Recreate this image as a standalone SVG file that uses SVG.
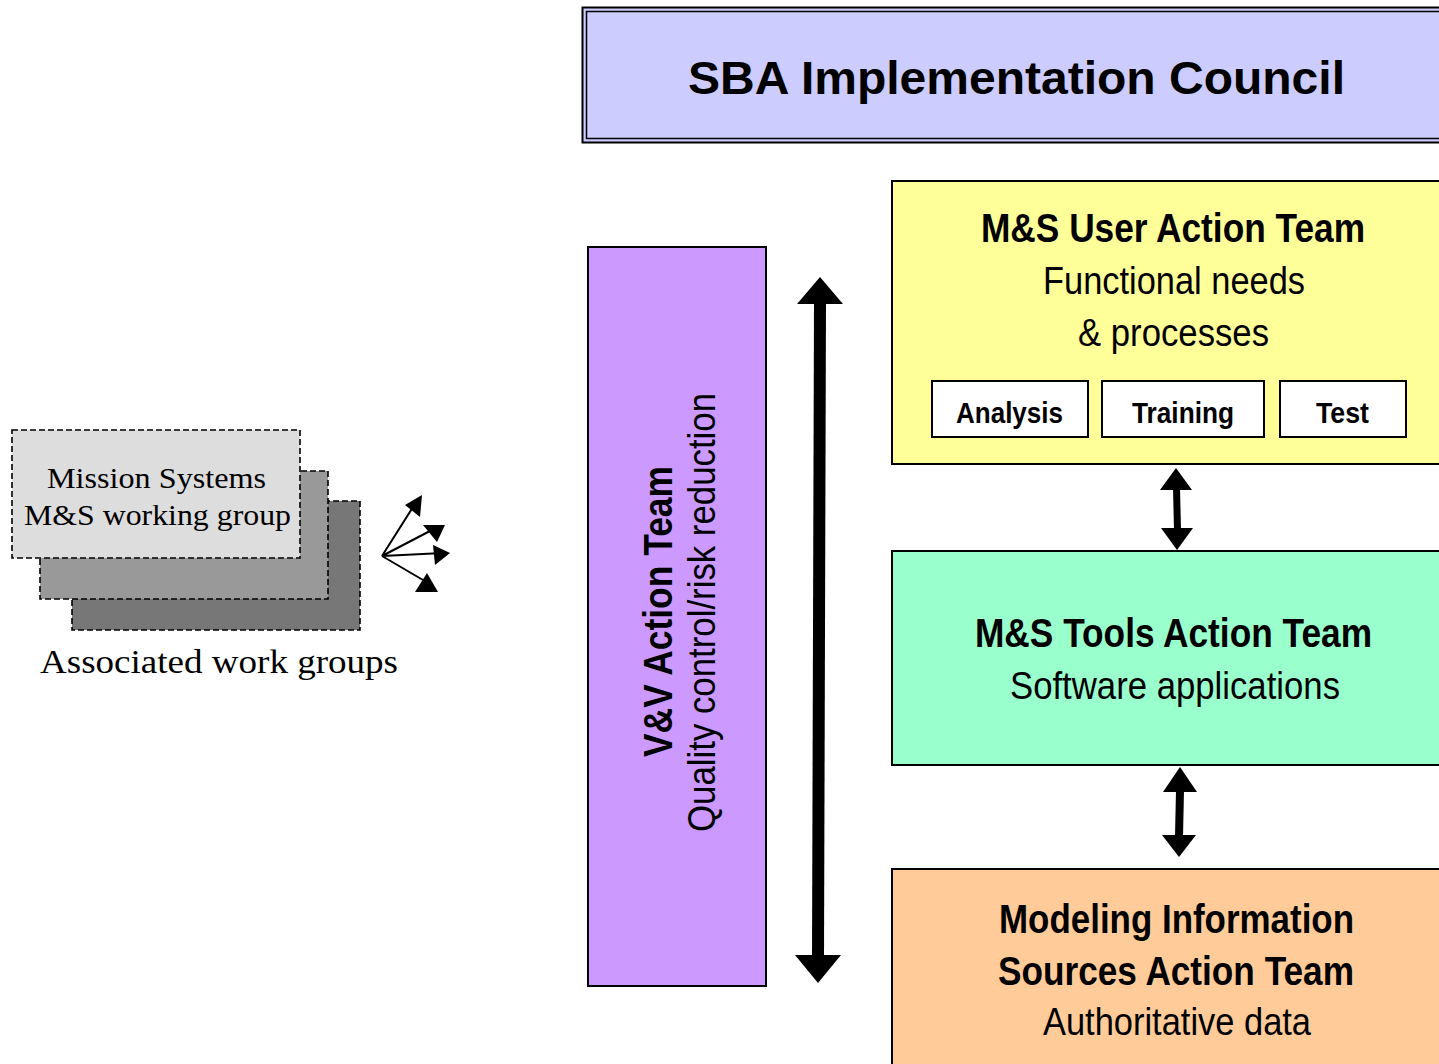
<svg xmlns="http://www.w3.org/2000/svg" width="1439" height="1064" viewBox="0 0 1439 1064">
  <style>
    .box { stroke: #000; stroke-width: 2; }
    .wg { stroke: #000; stroke-width: 1.6; stroke-dasharray: 6 3; }
    .nb { font-family: "Liberation Sans Narrow", "Liberation Sans", Arial, sans-serif; font-weight: bold; fill: #000; text-anchor: middle; }
    .nr { font-family: "Liberation Sans Narrow", "Liberation Sans", Arial, sans-serif; font-weight: normal; fill: #000; text-anchor: middle; }
    .sf { font-family: "Liberation Serif", "Times New Roman", serif; fill: #000; text-anchor: middle; }
    .head { fill: #000; }
    .fan { stroke: #000; stroke-width: 2; fill: none; }
  </style>
  <rect width="1439" height="1064" fill="#fff"/>

  <!-- council banner -->
  <g id="council">
    <rect class="box" x="582.5" y="7.5" width="870" height="135" fill="#ccccff"/>
    <rect x="586.5" y="11.5" width="866" height="127" fill="none" stroke="#000" stroke-width="1.5"/>
    <text class="nb" x="1016.5" y="94" font-size="46" textLength="657" lengthAdjust="spacingAndGlyphs">SBA Implementation Council</text>
  </g>

  <!-- verification & validation team, vertical -->
  <g id="vv-team">
    <rect class="box" x="588" y="247" width="178" height="739" fill="#cc99ff"/>
    <text class="nb" transform="translate(672,611.5) rotate(-90)" font-size="40" textLength="291" lengthAdjust="spacingAndGlyphs">V&amp;V Action Team</text>
    <text class="nr" transform="translate(715,612.5) rotate(-90)" font-size="38" textLength="439" lengthAdjust="spacingAndGlyphs">Quality control/risk reduction</text>
  </g>

  <!-- user team with its three domains -->
  <g id="user-team">
    <rect class="box" x="892" y="181" width="560" height="283" fill="#ffff99"/>
    <text class="nb" x="1173" y="242" font-size="40" textLength="384" lengthAdjust="spacingAndGlyphs">M&amp;S User Action Team</text>
    <text class="nr" x="1174" y="294" font-size="38" textLength="262" lengthAdjust="spacingAndGlyphs">Functional needs</text>
    <text class="nr" x="1173.5" y="346" font-size="38" textLength="191" lengthAdjust="spacingAndGlyphs">&amp; processes</text>
  </g>
  <g id="analysis">
    <rect class="box" x="932" y="381" width="156" height="56" fill="#fff"/>
    <text class="nb" x="1009.5" y="423" font-size="30" textLength="107" lengthAdjust="spacingAndGlyphs">Analysis</text>
  </g>
  <g id="training">
    <rect class="box" x="1102" y="381" width="162" height="56" fill="#fff"/>
    <text class="nb" x="1183" y="423" font-size="30" textLength="102" lengthAdjust="spacingAndGlyphs">Training</text>
  </g>
  <g id="test">
    <rect class="box" x="1280" y="381" width="126" height="56" fill="#fff"/>
    <text class="nb" x="1342.5" y="423" font-size="30" textLength="53" lengthAdjust="spacingAndGlyphs">Test</text>
  </g>

  <!-- tools team -->
  <g id="tools-team">
    <rect class="box" x="892" y="551" width="560" height="214" fill="#99ffcc"/>
    <text class="nb" x="1173.5" y="647" font-size="40" textLength="397" lengthAdjust="spacingAndGlyphs">M&amp;S Tools Action Team</text>
    <text class="nr" x="1175" y="699" font-size="38" textLength="330" lengthAdjust="spacingAndGlyphs">Software applications</text>
  </g>

  <!-- information sources team -->
  <g id="sources-team">
    <rect class="box" x="892" y="869" width="560" height="210" fill="#ffcc99"/>
    <text class="nb" x="1176.5" y="933" font-size="40" textLength="355" lengthAdjust="spacingAndGlyphs">Modeling Information</text>
    <text class="nb" x="1176" y="985" font-size="40" textLength="356" lengthAdjust="spacingAndGlyphs">Sources Action Team</text>
    <text class="nr" x="1177" y="1035" font-size="38" textLength="268" lengthAdjust="spacingAndGlyphs">Authoritative data</text>
  </g>

  <!-- stacked working-group cards -->
  <g id="work-groups">
    <rect class="wg" x="72" y="501" width="288" height="129" fill="#777777"/>
    <rect class="wg" x="40" y="471" width="288" height="128" fill="#999999"/>
    <rect class="wg" x="12" y="430" width="288" height="128" fill="#dddddd"/>
    <text class="sf" x="156.5" y="488" font-size="30" textLength="219" lengthAdjust="spacingAndGlyphs">Mission Systems</text>
    <text class="sf" x="157.5" y="525" font-size="30" textLength="267" lengthAdjust="spacingAndGlyphs">M&amp;S working group</text>
    <text class="sf" x="219" y="673" font-size="34" textLength="358" lengthAdjust="spacingAndGlyphs">Associated work groups</text>
  </g>

  <g id="connectors">
    <!-- long two-way arrow beside the V&V team -->
    <polygon class="head" points="814,302 826,302 824,957 812,957"/>
    <polygon class="head" points="820,277 843,304 797,304"/>
    <polygon class="head" points="818,983 841,955 795,955"/>

    <!-- user team <-> tools team -->
    <polygon class="head" points="1173,488 1180,488 1181,530 1174,530"/>
    <polygon class="head" points="1176,468 1192,490 1160,490"/>
    <polygon class="head" points="1177,550 1193,528 1161,528"/>

    <!-- tools team <-> sources team -->
    <polygon class="head" points="1176,790 1184,790 1183,837 1175,837"/>
    <polygon class="head" points="1180,767 1197,792 1163,792"/>
    <polygon class="head" points="1179,857 1196,835 1162,835"/>

    <!-- fan of arrows out of the working groups -->
    <path class="fan" d="M382,556 L413,507 M382,556 L430,531 M382,556 L443,553 M382,556 L423,580"/>
    <polygon class="head" points="405,505 422,495 420,517"/>
    <polygon class="head" points="423,525 445,525 437,542"/>
    <polygon class="head" points="433,545 450,553 435,565"/>
    <polygon class="head" points="415,592 438,592 427,573"/>
  </g>
</svg>
